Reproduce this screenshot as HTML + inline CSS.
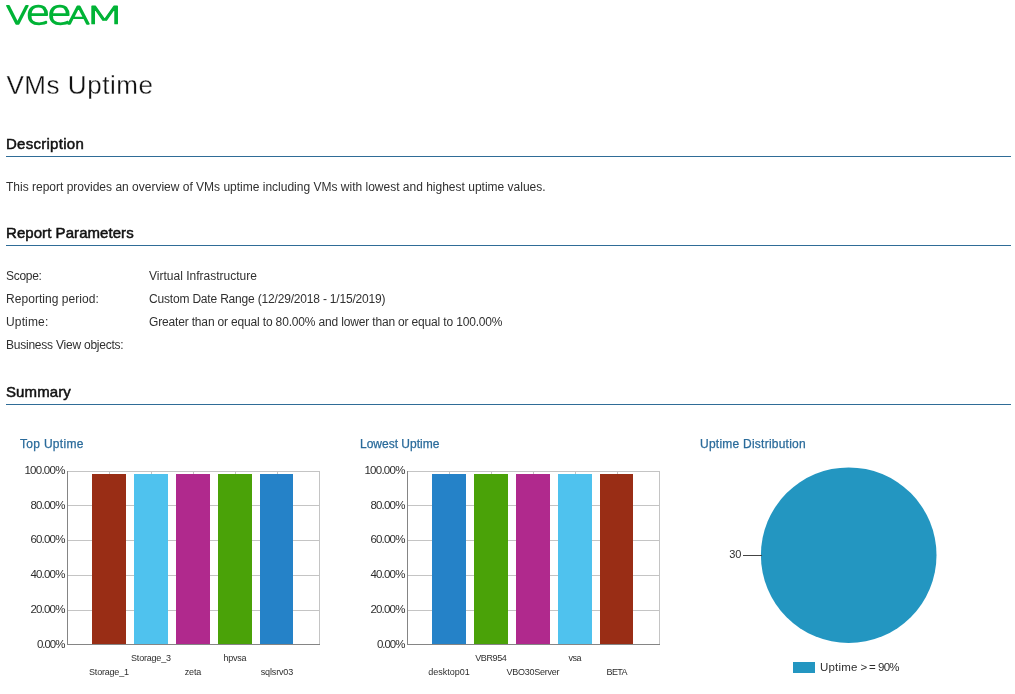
<!DOCTYPE html>
<html><head><meta charset="utf-8"><title>VMs Uptime</title>
<style>
html,body{margin:0;padding:0;background:#fff;}
body{width:1015px;height:694px;position:relative;overflow:hidden;font-family:"Liberation Sans",sans-serif;color:#222;}
.t{position:absolute;white-space:nowrap;line-height:1;}
.h1{left:6.4px;top:71.5px;font-size:26px;letter-spacing:0.56px;color:#111;-webkit-text-stroke:0.3px #fff;}
.h2{left:6px;font-size:15px;color:#111;-webkit-text-stroke:0.5px #111;letter-spacing:0.05px;}
.hr{position:absolute;left:6px;width:1005px;height:1px;background:#2f6c97;}
.p{font-size:12px;color:#303030;}
.ct{font-size:12px;color:#2a6b9b;-webkit-text-stroke:0.25px #2a6b9b;}
svg{position:absolute;left:0;top:0;}
svg text{font-family:"Liberation Sans",sans-serif;}
svg .lg text{font-family:"DejaVu Sans",sans-serif;font-weight:200;text-rendering:geometricPrecision;}
</style></head><body>
<svg width="1015" height="694" viewBox="0 0 1015 694">
<g class="lg" fill="#00b336" stroke="#00b336" stroke-linejoin="round" font-size="26" aria-label="veeam"><title>veeam</title>
<text transform="matrix(1.290 0 0 0.969 5.89 24.20)" stroke-width="1.4" vector-effect="non-scaling-stroke">V</text>
<text transform="matrix(1.538 0 0 1.271 25.40 24.20)" stroke-width="1.2" vector-effect="non-scaling-stroke">e</text>
<text transform="matrix(1.538 0 0 1.271 46.90 24.20)" stroke-width="1.2" vector-effect="non-scaling-stroke">e</text>
<text transform="matrix(1.278 0 0 0.943 67.20 24.10)" stroke-width="1.4" vector-effect="non-scaling-stroke">A</text>
<text transform="matrix(1.798 0 0 0.956 84.59 24.23)" stroke-width="0.75" vector-effect="non-scaling-stroke">M</text>
</g>
<g shape-rendering="crispEdges">
<rect x="67" y="471" width="253" height="1" fill="#c4c4c4"/>
<rect x="67" y="505" width="253" height="1" fill="#c4c4c4"/>
<rect x="67" y="540" width="253" height="1" fill="#c4c4c4"/>
<rect x="67" y="575" width="253" height="1" fill="#c4c4c4"/>
<rect x="67" y="610" width="253" height="1" fill="#c4c4c4"/>
<rect x="319" y="471" width="1" height="174" fill="#c4c4c4"/>
<rect x="109" y="471" width="1" height="3" fill="#c4c4c4"/>
<rect x="92" y="474" width="34" height="170" fill="#992d15"/>
<rect x="151" y="471" width="1" height="3" fill="#c4c4c4"/>
<rect x="134" y="474" width="34" height="170" fill="#4fc2ee"/>
<rect x="193" y="471" width="1" height="3" fill="#c4c4c4"/>
<rect x="176" y="474" width="34" height="170" fill="#b0298d"/>
<rect x="235" y="471" width="1" height="3" fill="#c4c4c4"/>
<rect x="218" y="474" width="34" height="170" fill="#4aa208"/>
<rect x="277" y="471" width="1" height="3" fill="#c4c4c4"/>
<rect x="260" y="474" width="33" height="170" fill="#2582c8"/>
<rect x="67" y="471" width="1" height="174" fill="#858585"/>
<rect x="67" y="644" width="253" height="1" fill="#858585"/>
</g>
<g font-size="11.5" fill="#2e2e2e" text-anchor="end">
<text x="65.4" y="474" textLength="41">100.00%</text>
<text x="65.4" y="509" textLength="35">80.00%</text>
<text x="65.4" y="543" textLength="35">60.00%</text>
<text x="65.4" y="578" textLength="35">40.00%</text>
<text x="65.4" y="613" textLength="35">20.00%</text>
<text x="65.4" y="648" textLength="28.5">0.00%</text>
</g>
<g font-size="9" fill="#2e2e2e" text-anchor="middle">
<text x="109" y="675" textLength="40">Storage_1</text>
<text x="151" y="661" textLength="40">Storage_3</text>
<text x="193" y="675" textLength="16.5">zeta</text>
<text x="235" y="661" textLength="23">hpvsa</text>
<text x="277" y="675" textLength="32.5">sqlsrv03</text>
</g>
<g shape-rendering="crispEdges">
<rect x="407" y="471" width="253" height="1" fill="#c4c4c4"/>
<rect x="407" y="505" width="253" height="1" fill="#c4c4c4"/>
<rect x="407" y="540" width="253" height="1" fill="#c4c4c4"/>
<rect x="407" y="575" width="253" height="1" fill="#c4c4c4"/>
<rect x="407" y="610" width="253" height="1" fill="#c4c4c4"/>
<rect x="659" y="471" width="1" height="174" fill="#c4c4c4"/>
<rect x="449" y="471" width="1" height="3" fill="#c4c4c4"/>
<rect x="432" y="474" width="34" height="170" fill="#2582c8"/>
<rect x="491" y="471" width="1" height="3" fill="#c4c4c4"/>
<rect x="474" y="474" width="34" height="170" fill="#4aa208"/>
<rect x="533" y="471" width="1" height="3" fill="#c4c4c4"/>
<rect x="516" y="474" width="34" height="170" fill="#b0298d"/>
<rect x="575" y="471" width="1" height="3" fill="#c4c4c4"/>
<rect x="558" y="474" width="34" height="170" fill="#4fc2ee"/>
<rect x="617" y="471" width="1" height="3" fill="#c4c4c4"/>
<rect x="600" y="474" width="33" height="170" fill="#992d15"/>
<rect x="407" y="471" width="1" height="174" fill="#858585"/>
<rect x="407" y="644" width="253" height="1" fill="#858585"/>
</g>
<g font-size="11.5" fill="#2e2e2e" text-anchor="end">
<text x="405.4" y="474" textLength="41">100.00%</text>
<text x="405.4" y="509" textLength="35">80.00%</text>
<text x="405.4" y="543" textLength="35">60.00%</text>
<text x="405.4" y="578" textLength="35">40.00%</text>
<text x="405.4" y="613" textLength="35">20.00%</text>
<text x="405.4" y="648" textLength="28.5">0.00%</text>
</g>
<g font-size="9" fill="#2e2e2e" text-anchor="middle">
<text x="449" y="675" textLength="41.5">desktop01</text>
<text x="491" y="661" textLength="31.5">VBR954</text>
<text x="533" y="675" textLength="53">VBO30Server</text>
<text x="575" y="661" textLength="13">vsa</text>
<text x="617" y="675" textLength="21">BETA</text>
</g>
<g>
<circle cx="848.7" cy="555.2" r="87.8" fill="#2396c1"/>
<rect x="743" y="555" width="19" height="1" fill="#444" shape-rendering="crispEdges"/>
<text x="741.5" y="558" text-anchor="end" font-size="11" fill="#2e2e2e">30</text>
<rect x="793" y="662" width="22" height="11" fill="#2396c1" shape-rendering="crispEdges"/>
<text y="671" font-size="11.5" fill="#2e2e2e"><tspan x="820" textLength="37.4">Uptime</tspan><tspan> </tspan><tspan x="860.6" letter-spacing="1.6">&gt;=</tspan><tspan> </tspan><tspan x="878" textLength="21.5">90%</tspan></text>
</g>
</svg>
<div class="t h1">VMs Uptime</div>
<div class="t h2" style="top:136px;letter-spacing:0.27px;">Description</div>
<div class="hr" style="top:156px"></div>
<div class="t h2" style="top:225px;letter-spacing:0.06px;">Report Parameters</div>
<div class="hr" style="top:245px"></div>
<div class="t h2" style="top:384px;letter-spacing:0.1px;">Summary</div>
<div class="hr" style="top:404px"></div>
<div class="t p" style="left:6px;top:181px;letter-spacing:0px;">This report provides an overview of VMs uptime including VMs with lowest and highest uptime values.</div>
<div class="t p" style="left:6px;top:270px;letter-spacing:-0.3px;">Scope:</div>
<div class="t p" style="left:149px;top:270px;letter-spacing:0px;">Virtual Infrastructure</div>
<div class="t p" style="left:6px;top:293px;letter-spacing:0.05px;">Reporting period:</div>
<div class="t p" style="left:149px;top:293px;letter-spacing:-0.185px;">Custom Date Range (12/29/2018 - 1/15/2019)</div>
<div class="t p" style="left:6px;top:316px;letter-spacing:0.15px;">Uptime:</div>
<div class="t p" style="left:149px;top:316px;letter-spacing:-0.165px;">Greater than or equal to 80.00% and lower than or equal to 100.00%</div>
<div class="t p" style="left:6px;top:339px;letter-spacing:-0.23px;">Business View objects:</div>
<div class="t ct" style="left:20px;top:438px;letter-spacing:0.3px;">Top Uptime</div>
<div class="t ct" style="left:360px;top:438px;letter-spacing:0px;">Lowest Uptime</div>
<div class="t ct" style="left:700px;top:438px;letter-spacing:0.24px;">Uptime Distribution</div>
</body></html>
